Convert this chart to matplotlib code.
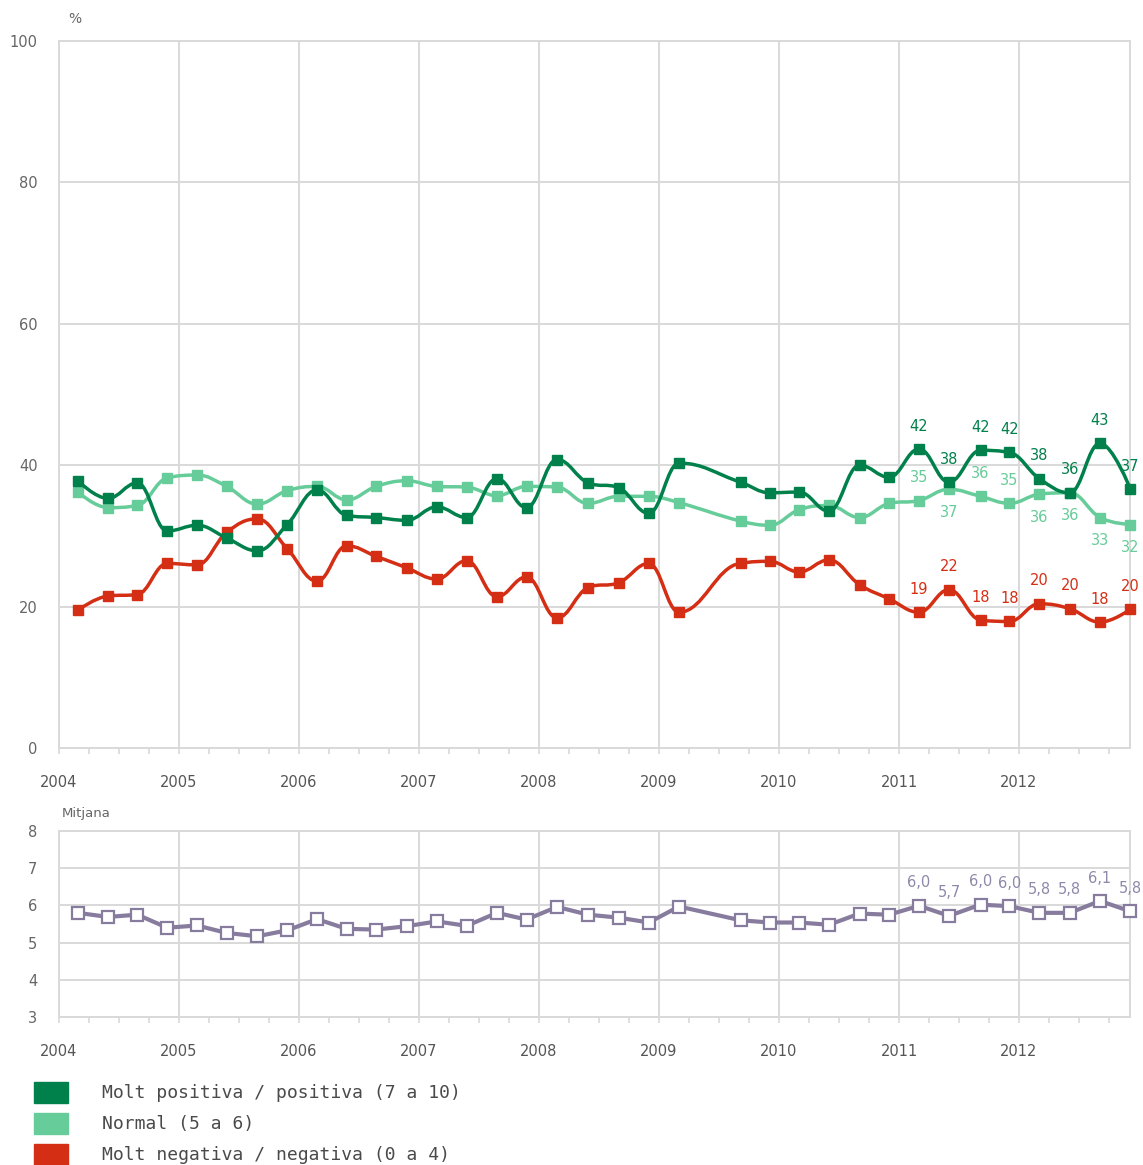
import numpy as np
import matplotlib
matplotlib.use("Agg")
import matplotlib.pyplot as plt
from matplotlib.path import Path
from matplotlib.patches import PathPatch, Rectangle
from matplotlib.ticker import FixedLocator, MultipleLocator

# ---------------- data ----------------
survey_dates = [
    "2004-02-27", "2004-05-29", "2004-08-27", "2004-11-26",
    "2005-02-25", "2005-05-26", "2005-08-27", "2005-11-26",
    "2006-02-25", "2006-05-26", "2006-08-24", "2006-11-24",
    "2007-02-24", "2007-05-26", "2007-08-26", "2007-11-24",
    "2008-02-25", "2008-05-30", "2008-09-01", "2008-12-01",
    "2009-03-03", "2009-09-06", "2009-12-04",
    "2010-03-03", "2010-06-02", "2010-09-03", "2010-12-02",
    "2011-03-03", "2011-06-02", "2011-09-06", "2011-12-03",
    "2012-03-03", "2012-06-04", "2012-09-04", "2012-12-06",
]
positive = [37.8, 35.3, 37.5, 30.7, 31.5, 29.7, 27.9, 31.6,
            36.5, 32.9, 32.6, 32.2, 34.1, 32.6, 38.1, 34.0,
            40.8, 37.5, 36.8, 33.2, 40.3, 37.6, 36.1,
            36.2, 33.5, 40.0, 38.3, 42.3, 37.6, 42.1, 41.8,
            38.1, 36.1, 43.1, 36.6]
normal = [36.2, 34.0, 34.3, 38.2, 38.6, 37.0, 34.5, 36.4,
          37.0, 35.1, 37.0, 37.8, 37.0, 36.9, 35.7, 37.0,
          36.9, 34.6, 35.6, 35.6, 34.7, 32.1, 31.5,
          33.7, 34.3, 32.6, 34.6, 35.0, 36.6, 35.6, 34.6,
          35.9, 36.1, 32.6, 31.6]
negative = [19.5, 21.5, 21.7, 26.1, 25.9, 30.5, 32.4, 28.2,
            23.6, 28.6, 27.1, 25.5, 23.9, 26.5, 21.4, 24.2,
            18.4, 22.7, 23.4, 26.1, 19.2, 26.1, 26.4,
            24.9, 26.6, 23.1, 21.1, 19.2, 22.4, 18.1, 17.9,
            20.4, 19.7, 17.8, 19.6]
mean_score = [5.80, 5.69, 5.75, 5.40, 5.46, 5.26, 5.17, 5.33,
              5.63, 5.37, 5.35, 5.44, 5.57, 5.45, 5.80, 5.62,
              5.96, 5.75, 5.67, 5.54, 5.97, 5.60, 5.54,
              5.54, 5.48, 5.78, 5.75, 5.99, 5.72, 6.02, 5.98,
              5.80, 5.80, 6.12, 5.84]
series_names = ["Molt positiva / positiva (7 a 10)",
                "Normal (5 a 6)",
                "Molt negativa / negativa (0 a 4)"]
year_ticks = list(range(2004, 2013))
pct_ticks = [0, 20, 40, 60, 80, 100]
mean_ticks = [3, 4, 5, 6, 7, 8]

# ---------------- style ----------------
N_LABELLED = 8
normal_label_side = ["above", "below", "above", "above",
                     "below", "below", "below", "below"]
C_POS = "#00804B"
C_NORM = "#66CC99"
C_NEG = "#D42E14"
C_MEAN = "#877C9E"
C_MEAN_LBL = "#8F88AA"
GRID = "#D9D9D9"
W, H = 1143, 1165
FS = 10.5
plt.rcParams["font.family"] = ["DejaVu Sans"]


def to_decimal_year(s):
    d = np.datetime64(s, "D")
    y = d.astype("datetime64[Y]")
    start = y.astype("datetime64[D]")
    end = (y + 1).astype("datetime64[D]")
    return (y.astype(int) + 1970) + (d - start).astype(int) / (end - start).astype(int)


x = np.array([to_decimal_year(s) for s in survey_dates])
x_end = 2004 + 1071 / 120.0


def spline_patch(xs, ys, color, lw, z, smoothing=1.5):
    denom = smoothing + 1
    n = len(xs)
    lc = [None] * n
    rc = [None] * n
    for i in range(n):
        px, py = xs[i], ys[i]
        if 0 < i < n - 1:
            lx, ly = xs[i - 1], ys[i - 1]
            nx, ny = xs[i + 1], ys[i + 1]
            lcx = (smoothing * px + lx) / denom
            lcy = (smoothing * py + ly) / denom
            rcx = (smoothing * px + nx) / denom
            rcy = (smoothing * py + ny) / denom
            if rcx != lcx:
                corr = ((rcy - lcy) * (rcx - px)) / (rcx - lcx) + py - rcy
                lcy += corr
                rcy += corr
            if lcy > ly and lcy > py:
                lcy = max(ly, py)
                rcy = 2 * py - lcy
            elif lcy < ly and lcy < py:
                lcy = min(ly, py)
                rcy = 2 * py - lcy
            if rcy > ny and rcy > py:
                rcy = max(ny, py)
                lcy = 2 * py - rcy
            elif rcy < ny and rcy < py:
                rcy = min(ny, py)
                lcy = 2 * py - rcy
            lc[i] = (lcx, lcy)
            rc[i] = (rcx, rcy)
        else:
            lc[i] = rc[i] = (px, py)
    verts = [(xs[0], ys[0])]
    codes = [Path.MOVETO]
    for i in range(1, n):
        verts += [rc[i - 1], lc[i], (xs[i], ys[i])]
        codes += [Path.CURVE4] * 3
    return PathPatch(Path(verts, codes), facecolor="none", edgecolor=color,
                     lw=lw, zorder=z, clip_on=False, capstyle="round",
                     joinstyle="round")


def style_axes(ax, yticks):
    ax.set_xlim(2004, x_end)
    ax.set_ylim(yticks[0], yticks[-1])
    ax.set_yticks(yticks)
    ax.xaxis.set_major_locator(FixedLocator(year_ticks))
    ax.xaxis.set_minor_locator(MultipleLocator(0.25))
    ax.grid(True, which="major", color=GRID, lw=1.4)
    ax.set_axisbelow(True)
    for sp in ax.spines.values():
        sp.set_color(GRID)
        sp.set_linewidth(1.4)
    ax.tick_params(axis="x", which="both", length=4.5, width=1.2, color=GRID,
                   direction="out")
    ax.tick_params(axis="x", which="major", pad=15, labelsize=FS,
                   labelcolor="#555555")
    ax.tick_params(axis="y", length=0, pad=15.5, labelsize=FS,
                   labelcolor="#666666")


fig = plt.figure(figsize=(W / 100, H / 100), dpi=100)

# ---------------- main chart ----------------
ax1 = fig.add_axes([59 / W, 1 - 748 / H, 1071 / W, 707 / H])
style_axes(ax1, pct_ticks)

series = [(normal, C_NORM, 3), (negative, C_NEG, 4), (positive, C_POS, 5)]
for vals, col, z in series:
    ax1.add_patch(spline_patch(x, vals, col, 2.5, z))
    ax1.plot(x, vals, linestyle="none", marker="s", ms=7.5, color=col,
             zorder=z + 0.5, clip_on=False)

OFF = 16.5
for i in range(len(x) - N_LABELLED, len(x)):
    k = i - (len(x) - N_LABELLED)
    ax1.annotate(f"{positive[i]:.0f}", (x[i], positive[i]), xytext=(0, OFF),
                 textcoords="offset points", ha="center", va="center",
                 color=C_POS, fontsize=FS, annotation_clip=False, zorder=8)
    sgn = 1 if normal_label_side[k] == "above" else -1
    ax1.annotate(f"{normal[i]:.0f}", (x[i], normal[i]), xytext=(0, sgn * OFF),
                 textcoords="offset points", ha="center", va="center",
                 color=C_NORM, fontsize=FS, annotation_clip=False, zorder=8)
    ax1.annotate(f"{negative[i]:.0f}", (x[i], negative[i]), xytext=(0, OFF),
                 textcoords="offset points", ha="center", va="center",
                 color=C_NEG, fontsize=FS, annotation_clip=False, zorder=8)

fig.text(75 / W, 1 - 19 / H, "%", ha="center", va="center", fontsize=10,
         color="#666666")

# ---------------- mean chart ----------------
ax2 = fig.add_axes([59 / W, 1 - 1017 / H, 1071 / W, 186 / H])
style_axes(ax2, mean_ticks)
ax2.plot(x, mean_score, color=C_MEAN, lw=3, marker="s", ms=8, mfc="white",
         mec=C_MEAN, mew=1.6, clip_on=False, zorder=5)
for i in range(len(x) - N_LABELLED, len(x)):
    ax2.annotate(f"{mean_score[i]:.1f}".replace(".", ","),
                 (x[i], mean_score[i]), xytext=(0, OFF),
                 textcoords="offset points", ha="center", va="center",
                 color=C_MEAN_LBL, fontsize=FS, annotation_clip=False)
fig.text(62 / W, 1 - 813 / H, "Mitjana", ha="left", va="center",
         fontsize=9.5, color="#666666")

# ---------------- legend ----------------
for i, (name, col) in enumerate(zip(series_names, [C_POS, C_NORM, C_NEG])):
    top = 1082 + 31 * i
    fig.patches.append(Rectangle((34 / W, 1 - (top + 21) / H), 34 / W, 21 / H,
                                 transform=fig.transFigure, color=col))
    fig.text(102 / W, 1 - (top + 11) / H, name, family="DejaVu Sans Mono",
             fontsize=13, color="#4A4A4A", va="center", ha="left")

fig.savefig("out.png", dpi=100)
